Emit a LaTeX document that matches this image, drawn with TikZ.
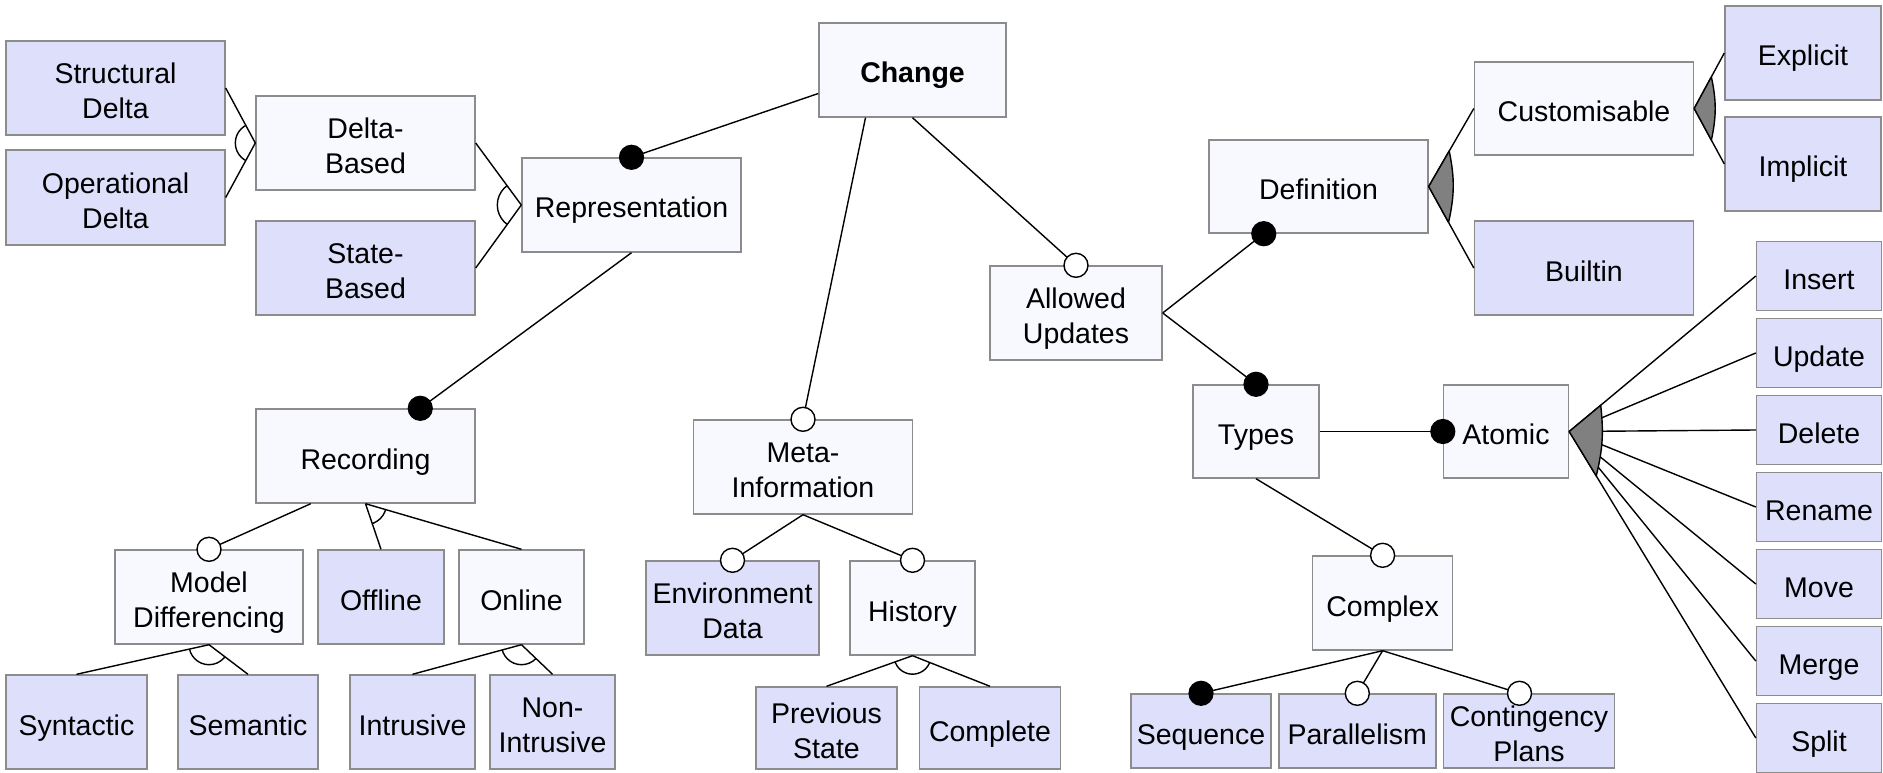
\documentclass[tikz,border=0pt]{standalone}
\usepackage{fontspec}
\setmainfont{Liberation Sans}
\usetikzlibrary{calc}
\definecolor{featfill}{RGB}{248,249,255}
\definecolor{leaffill}{RGB}{221,223,251}
\definecolor{boxline}{RGB}{140,140,140}
\definecolor{wedgefill}{RGB}{128,128,128}
\tikzset{
  feat/.style={draw=boxline, fill=featfill, line width=1.4pt, inner sep=0pt, align=center,
    text depth=0pt, font=\fontsize{28.5}{35}\selectfont},
  leaf/.style={feat, fill=leaffill},
  conn/.style={line width=1.4pt, draw=black},
  mand/.style={fill=black, draw=black, line width=1.2pt},
  opt/.style={fill=white, draw=black, line width=1.4pt},
  orwedge/.style={fill=wedgefill, draw=black, line width=1.4pt, line join=round},
}
% box of given width and height centred at a point; the strut lowers the label a little
\newcommand{\featbox}[6]{\node[#1, minimum width=#4pt, minimum height=#5pt] (#2) at #3 {\rule{0pt}{26pt}#6};}
% empty arc of an alternative group, between two edges leaving an apex
\newcommand{\altarc}[4]{%
  \begin{scope}
    \clip (#1) -- ($(#1)!3!(#2)$) -- ($(#1)!3!(#3)$) -- cycle;
    \draw[conn] (#1) circle (#4pt);
  \end{scope}}
\begin{document}
\begin{tikzpicture}[x=1pt,y=1pt]
\useasboundingbox (0,0) rectangle (1883,-773);

% ---- feature boxes ----
\featbox{leaf}{StructD}{(115.5,-88)}{219}{94}{Structural\\Delta}
\featbox{leaf}{OperD}{(115.5,-197.5)}{219}{95}{Operational\\Delta}
\featbox{feat}{DeltaB}{(365.5,-143)}{219}{94}{Delta-\\Based}
\featbox{leaf}{StateB}{(365.5,-268)}{219}{94}{State-\\Based}
\featbox{feat}{Rep}{(631.5,-205)}{219}{94}{Representation}
\featbox{feat}{Change}{(912.5,-70)}{187}{94}{\textbf{Change}}
\featbox{feat}{Rec}{(365.5,-456)}{219}{94}{Recording}
\featbox{feat}{MD}{(209,-597)}{188}{94}{Model\\Differencing}
\featbox{leaf}{Offline}{(381,-597)}{126}{94}{Offline}
\featbox{feat}{Online}{(521.5,-597)}{125}{94}{Online}
\featbox{leaf}{Syntactic}{(76.5,-722)}{141}{94}{Syntactic}
\featbox{leaf}{Semantic}{(248,-722)}{140}{94}{Semantic}
\featbox{leaf}{Intrusive}{(412.5,-722)}{125}{94}{Intrusive}
\featbox{leaf}{NonIntr}{(552.5,-722)}{125}{94}{Non-\\Intrusive}
\featbox{feat}{Meta}{(803,-467)}{219}{94}{Meta-\\Information}
\featbox{leaf}{Env}{(732.5,-608)}{173}{94}{Environment\\Data}
\featbox{feat}{History}{(912.5,-608)}{125}{94}{History}
\featbox{leaf}{Prev}{(826.5,-728)}{141}{82}{Previous\\State}
\featbox{leaf}{Complete}{(990,-728)}{141}{82}{Complete}
\featbox{feat}{Allowed}{(1076,-313)}{172}{94}{Allowed\\Updates}
\featbox{feat}{Def}{(1318.5,-186.5)}{219}{93}{Definition}
\featbox{feat}{Custom}{(1584,-108.5)}{219}{93}{Customisable}
\featbox{leaf}{Builtin}{(1584,-268)}{219}{94}{Builtin}
\featbox{leaf}{Explicit}{(1803,-53)}{156}{94}{Explicit}
\featbox{leaf}{Implicit}{(1803,-164)}{156}{94}{Implicit}
\featbox{feat}{Types}{(1256,-431.5)}{126}{93}{Types}
\featbox{feat}{Atomic}{(1506,-431.5)}{125}{93}{Atomic}
\featbox{leaf}{Insert}{(1819,-276)}{125}{69}{Insert}
\featbox{leaf}{Update}{(1819,-353)}{125}{69}{Update}
\featbox{leaf}{Delete}{(1819,-430)}{125}{69}{Delete}
\featbox{leaf}{Rename}{(1819,-507)}{125}{69}{Rename}
\featbox{leaf}{Move}{(1819,-584)}{125}{69}{Move}
\featbox{leaf}{Merge}{(1819,-661)}{125}{69}{Merge}
\featbox{leaf}{Split}{(1819,-738)}{125}{69}{Split}
\featbox{feat}{Complex}{(1382.6,-603)}{140}{94}{Complex}
\featbox{leaf}{Sequence}{(1201,-731)}{140}{74}{Sequence}
\featbox{leaf}{Parallel}{(1357.3,-731)}{157}{74}{Parallelism}
\featbox{leaf}{Conting}{(1529,-731)}{171.5}{74}{Contingency\\Plans}

% ---- attachment points ----
\coordinate (chgL) at ([yshift=-23.5pt]Change.west);
\coordinate (chgB) at ([xshift=-47pt]Change.south);
\coordinate (recT) at ([xshift=54.75pt]Rec.north);
\coordinate (recB) at ([xshift=-54.75pt]Rec.south);
\coordinate (defB) at ([xshift=-54.75pt]Def.south);
\coordinate (conT) at ([xshift=-9.5pt]Conting.north);

% ---- connectors ----
\draw[conn] (chgL) -- (Rep.north);
\draw[conn] (chgB) -- (Meta.north);
\draw[conn] (Change.south) -- (Allowed.north);
\draw[conn] (Rep.south) -- (recT);
\draw[conn] (Rep.west) -- (DeltaB.east);
\draw[conn] (Rep.west) -- (StateB.east);
\draw[conn] (DeltaB.west) -- (StructD.east);
\draw[conn] (DeltaB.west) -- (OperD.east);
\draw[conn] (recB) -- (MD.north);
\draw[conn] (Rec.south) -- (Offline.north);
\draw[conn] (Rec.south) -- (Online.north);
\draw[conn] (MD.south) -- (Syntactic.north);
\draw[conn] (MD.south) -- (Semantic.north);
\draw[conn] (Online.south) -- (Intrusive.north);
\draw[conn] (Online.south) -- (NonIntr.north);
\draw[conn] (Meta.south) -- (Env.north);
\draw[conn] (Meta.south) -- (History.north);
\draw[conn] (History.south) -- (Prev.north);
\draw[conn] (History.south) -- (Complete.north);
\draw[conn] (Allowed.east) -- (defB);
\draw[conn] (Allowed.east) -- (Types.north);
\draw[conn] (Def.east) -- (Custom.west);
\draw[conn] (Def.east) -- (Builtin.west);
\draw[conn] (Custom.east) -- (Explicit.west);
\draw[conn] (Custom.east) -- (Implicit.west);
\draw[conn] (Types.east) -- (Atomic.west);
\draw[conn] (Types.south) -- (Complex.north);
\draw[conn] (Complex.south) -- (Sequence.north);
\draw[conn] (Complex.south) -- (Parallel.north);
\draw[conn] (Complex.south) -- (conT);
\foreach \c in {Insert,Update,Delete,Rename,Move,Merge,Split}
  \draw[conn] (Atomic.east) -- (\c.west);

% ---- alternative groups ----
\altarc{DeltaB.west}{StructD.east}{OperD.east}{20}
\altarc{Rep.west}{DeltaB.east}{StateB.east}{24}
\altarc{Rec.south}{Offline.north}{Online.north}{21}
\altarc{MD.south}{Syntactic.north}{Semantic.north}{20}
\altarc{Online.south}{Intrusive.north}{NonIntr.north}{20}
\altarc{History.south}{Prev.north}{Complete.north}{18.5}

% ---- or groups ----
\filldraw[orwedge] (Def.east) -- ($(Def.east)!41pt!(Custom.west)$)
  to[bend left=12] ($(Def.east)!41pt!(Builtin.west)$) -- cycle;
\filldraw[orwedge] (Custom.east) -- ($(Custom.east)!36pt!(Explicit.west)$)
  to[bend left=12] ($(Custom.east)!36pt!(Implicit.west)$) -- cycle;
\filldraw[orwedge] (Atomic.east) -- ($(Atomic.east)!41pt!(Insert.west)$)
  to[bend left=10] ($(Atomic.east)!52pt!(Split.west)$) -- cycle;

% ---- mandatory / optional markers ----
\foreach \p in {Rep.north, recT, defB, Types.north, Atomic.west, Sequence.north}
  \filldraw[mand] (\p) circle (12pt);
\foreach \p in {Allowed.north, Meta.north, MD.north, Env.north, History.north,
                Complex.north, Parallel.north, conT}
  \filldraw[opt] (\p) circle (12pt);
\end{tikzpicture}
\end{document}
